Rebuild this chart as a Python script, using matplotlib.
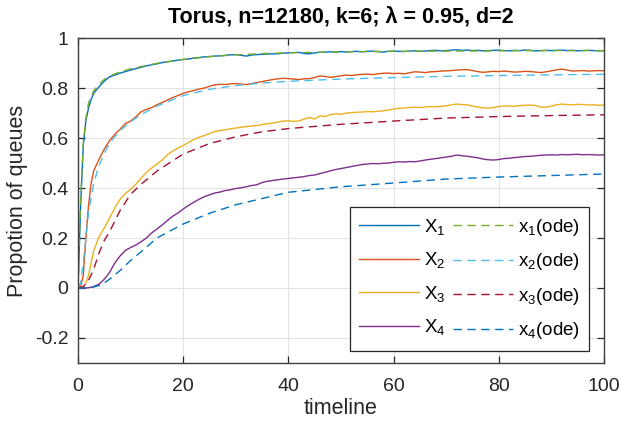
import numpy as np
import matplotlib
matplotlib.use("Agg")
import matplotlib.pyplot as plt
from matplotlib.ticker import FormatStrFormatter

plt.rcParams['font.family'] = ['Liberation Sans', 'DejaVu Sans']
plt.rcParams['mathtext.default'] = 'regular'

# simulation time grid
t_sim = [0, 0.5, 1, 1.5, 2, 2.5] + list(range(3, 101))

X1 = [0, 0.33, 0.57, 0.67, 0.72, 0.755, 0.78, 0.805, 0.828, 0.845, 0.852, 0.86, 0.866, 0.872, 0.878, 0.883,
      0.889, 0.893, 0.897, 0.902, 0.905, 0.908, 0.912, 0.914, 0.916, 0.92, 0.922, 0.925, 0.926, 0.928, 0.929,
      0.931, 0.933, 0.934, 0.931, 0.928, 0.932, 0.934, 0.935, 0.936, 0.937, 0.937, 0.94, 0.941, 0.942, 0.943,
      0.938, 0.937, 0.941, 0.943, 0.944, 0.945, 0.944, 0.946, 0.944, 0.946, 0.947, 0.945, 0.947, 0.948, 0.946,
      0.944, 0.947, 0.948, 0.947, 0.946, 0.948, 0.949, 0.947, 0.948, 0.95, 0.951, 0.949, 0.95, 0.952, 0.953,
      0.951, 0.952, 0.95, 0.951, 0.949, 0.95, 0.951, 0.952, 0.95, 0.949, 0.951, 0.95, 0.952, 0.951, 0.949,
      0.95, 0.951, 0.95, 0.951, 0.952, 0.95, 0.951, 0.949, 0.95, 0.951, 0.95, 0.949, 0.949]

X2 = [0, 0.005, 0.05, 0.2, 0.33, 0.42, 0.47, 0.515, 0.556, 0.59, 0.615, 0.635, 0.658, 0.668, 0.685, 0.705,
      0.715, 0.722, 0.733, 0.742, 0.752, 0.762, 0.77, 0.779, 0.785, 0.79, 0.796, 0.8, 0.807, 0.813, 0.815,
      0.814, 0.817, 0.818, 0.816, 0.814, 0.818, 0.822, 0.826, 0.83, 0.834, 0.837, 0.839, 0.838, 0.836, 0.834,
      0.837, 0.838, 0.842, 0.849, 0.846, 0.843, 0.846, 0.849, 0.852, 0.85, 0.853, 0.855, 0.856, 0.854, 0.857,
      0.859, 0.86, 0.858, 0.859, 0.857, 0.861, 0.865, 0.864, 0.862, 0.865, 0.866, 0.868, 0.869, 0.87, 0.872,
      0.873, 0.874, 0.87, 0.866, 0.863, 0.865, 0.867, 0.866, 0.868, 0.866, 0.864, 0.865, 0.867, 0.866, 0.864,
      0.862, 0.865, 0.869, 0.873, 0.876, 0.872, 0.868, 0.869, 0.87, 0.868, 0.869, 0.87, 0.869]

X3 = [0, 0, 0.003, 0.02, 0.05, 0.1, 0.15, 0.205, 0.24, 0.28, 0.32, 0.355, 0.378, 0.395, 0.415, 0.44,
      0.462, 0.48, 0.496, 0.512, 0.533, 0.548, 0.56, 0.57, 0.582, 0.594, 0.603, 0.61, 0.618, 0.626, 0.63,
      0.633, 0.637, 0.64, 0.643, 0.646, 0.648, 0.65, 0.654, 0.657, 0.66, 0.664, 0.668, 0.669, 0.667, 0.668,
      0.676, 0.682, 0.676, 0.689, 0.686, 0.694, 0.697, 0.695, 0.7, 0.702, 0.703, 0.704, 0.706, 0.705, 0.707,
      0.709, 0.712, 0.716, 0.719, 0.72, 0.722, 0.723, 0.722, 0.724, 0.726, 0.725, 0.727, 0.729, 0.733, 0.736,
      0.734, 0.733, 0.728, 0.724, 0.721, 0.72, 0.722, 0.726, 0.729, 0.728, 0.727, 0.73, 0.731, 0.732, 0.73,
      0.724, 0.723, 0.728, 0.733, 0.736, 0.734, 0.733, 0.735, 0.734, 0.732, 0.733, 0.731, 0.732]

X4 = [0, 0, 0, 0, 0.001, 0.003, 0.006, 0.015, 0.035, 0.062, 0.1, 0.128, 0.15, 0.162, 0.172, 0.185,
      0.2, 0.22, 0.236, 0.252, 0.27, 0.287, 0.3, 0.316, 0.33, 0.343, 0.355, 0.365, 0.373, 0.38, 0.384,
      0.39, 0.393, 0.398, 0.401, 0.405, 0.41, 0.413, 0.422, 0.427, 0.43, 0.433, 0.436, 0.438, 0.441, 0.443,
      0.446, 0.45, 0.452, 0.458, 0.463, 0.469, 0.474, 0.478, 0.482, 0.486, 0.49, 0.494, 0.496, 0.498, 0.497,
      0.499, 0.5, 0.503, 0.505, 0.504, 0.506, 0.505, 0.508, 0.512, 0.515, 0.518, 0.521, 0.524, 0.527, 0.532,
      0.529, 0.527, 0.524, 0.521, 0.516, 0.513, 0.512, 0.514, 0.518, 0.519, 0.522, 0.524, 0.526, 0.527, 0.529,
      0.531, 0.532, 0.533, 0.532, 0.534, 0.533, 0.534, 0.535, 0.533, 0.534, 0.533, 0.532, 0.533]

# ode solutions
t_ode12 = [0, 0.5, 1, 1.5, 2, 3, 4, 5, 6, 8, 10, 12, 15, 20, 25, 30, 35, 40, 50, 60, 70, 80, 90, 100]
x1_ode = [0, 0.35, 0.58, 0.68, 0.74, 0.79, 0.815, 0.835, 0.848, 0.865, 0.877, 0.886, 0.899, 0.915, 0.926,
          0.933, 0.938, 0.941, 0.945, 0.947, 0.948, 0.949, 0.95, 0.95]
x2_ode = [0, 0.02, 0.1, 0.2, 0.3, 0.42, 0.49, 0.54, 0.58, 0.63, 0.665, 0.694, 0.728, 0.77, 0.795, 0.81,
          0.82, 0.827, 0.836, 0.842, 0.847, 0.85, 0.853, 0.855]

t_ode34 = [0, 1, 2, 3, 4, 5, 6, 8, 10, 12, 15, 20, 25, 30, 35, 40, 50, 60, 70, 80, 90, 100]
x3_ode = [0, 0.005, 0.03, 0.076, 0.14, 0.19, 0.225, 0.31, 0.375, 0.415, 0.468, 0.536, 0.578, 0.605, 0.625,
          0.638, 0.655, 0.668, 0.68, 0.686, 0.69, 0.693]
x4_ode = [0, 0, 0.001, 0.004, 0.01, 0.02, 0.035, 0.07, 0.11, 0.145, 0.2, 0.256, 0.299, 0.333, 0.358,
          0.383, 0.405, 0.42, 0.436, 0.444, 0.45, 0.456]

fig = plt.figure(figsize=(6.21, 4.28), dpi=100)
ax = fig.add_axes([0.1256, 0.152, 0.847, 0.759])

dash = (6, 4)
lw = 1.0
ax.plot(t_sim, X1, color='#0072BD', lw=lw, label='X$_1$')
ax.plot(t_sim, X2, color='#D95319', lw=lw, label='X$_2$')
ax.plot(t_sim, X3, color='#EDB120', lw=lw, label='X$_3$')
ax.plot(t_sim, X4, color='#7E2F8E', lw=lw, label='X$_4$')
ax.plot(t_ode12, x1_ode, color='#77AC30', lw=lw, ls='--', dashes=dash, label='x$_1$(ode)')
ax.plot(t_ode12, x2_ode, color='#4DBEEE', lw=lw, ls='--', dashes=dash, label='x$_2$(ode)')
ax.plot(t_ode34, x3_ode, color='#A2142F', lw=lw, ls='--', dashes=dash, label='x$_3$(ode)')
ax.plot(t_ode34, x4_ode, color='#0072BD', lw=lw, ls='--', dashes=dash, label='x$_4$(ode)')

ax.set_xlim(0, 100)
ax.set_ylim(-0.3, 1)
ax.set_xticks([0, 20, 40, 60, 80, 100])
ax.set_yticks([-0.2, 0, 0.2, 0.4, 0.6, 0.8, 1])
ax.yaxis.set_major_formatter(FormatStrFormatter('%g'))
ax.grid(True, color='#e3e3e3', lw=0.8)
ax.set_axisbelow(True)
for s in ax.spines.values():
    s.set_color('#404040')
    s.set_linewidth(1.0)
ax.tick_params(direction='in', top=True, right=True, labelsize=14, colors='#262626',
               length=5, width=0.9)
ax.tick_params(axis='y', pad=7)
ax.tick_params(axis='x', pad=11)

ax.set_title('Torus, n=12180, k=6; λ = 0.95, d=2', fontsize=15.5, fontweight='bold', pad=11)
ax.set_xlabel('timeline', fontsize=15.5, color='#262626', labelpad=2)
ax.set_ylabel('Propotion of queues', fontsize=15.5, color='#262626', labelpad=5)

leg = ax.legend(ncol=2, loc='upper left', bbox_to_anchor=(0.517, 0.479), borderaxespad=0,
                fontsize=13.5, handlelength=3.2, labelspacing=0.72, columnspacing=0.4,
                handletextpad=0.25, borderpad=0.5, fancybox=False, framealpha=1,
                edgecolor='#262626')
leg.get_frame().set_linewidth(0.9)

fig.savefig('out.png', dpi=100)
